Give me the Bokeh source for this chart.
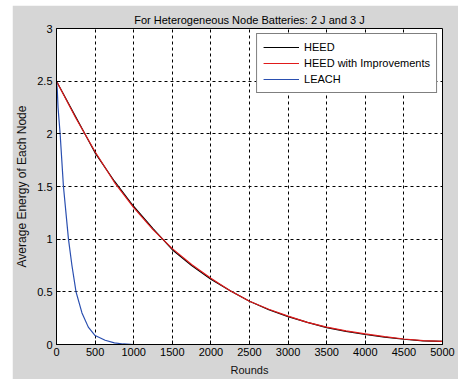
from bokeh.plotting import figure
from bokeh.models import Range1d, FixedTicker, NumeralTickFormatter, Legend, LegendItem
from bokeh.embed import file_html
from bokeh.resources import INLINE

# ---- data ----
title_text = "For Heterogeneous Node Batteries: 2 J and 3 J"
x_label = "Rounds"
y_label = "Average Energy of Each Node"

heed_rounds = [0, 250, 500, 750, 1000, 1250, 1500, 1750, 2000, 2250, 2500, 2750,
               3000, 3250, 3500, 3750, 4000, 4250, 4500, 4750, 5000]
heed_energy = [2.50, 2.16, 1.82, 1.55, 1.31, 1.10, 0.90, 0.75, 0.62, 0.51, 0.41, 0.33,
               0.265, 0.21, 0.16, 0.125, 0.095, 0.07, 0.05, 0.035, 0.03]

heedi_rounds = [0, 250, 500, 750, 1000, 1250, 1500, 1750, 2000, 2250, 2500, 2750,
                3000, 3250, 3500, 3750, 4000, 4250, 4500, 4750, 5000]
heedi_energy = [2.50, 2.15, 1.83, 1.54, 1.30, 1.09, 0.91, 0.76, 0.63, 0.51, 0.41, 0.335,
                0.27, 0.21, 0.165, 0.13, 0.10, 0.075, 0.052, 0.037, 0.03]

leach_rounds = [0, 10, 20, 47, 90, 155, 200, 253, 330, 412, 500, 630, 750, 865, 1000, 3500]
leach_energy = [2.50, 2.42, 2.25, 2.00, 1.50, 1.00, 0.75, 0.50, 0.30, 0.165, 0.085, 0.04,
                0.015, 0.005, 0.0, 0.0]

x_ticks = [0, 500, 1000, 1500, 2000, 2500, 3000, 3500, 4000, 4500, 5000]
y_ticks = [0, 0.5, 1, 1.5, 2, 2.5, 3]

FONT = "Liberation Sans"
BG = "#d6d6d6"

p = figure(width=446, height=374, output_backend="svg", toolbar_location=None,
           x_range=Range1d(0, 5000), y_range=Range1d(0, 3),
           min_border_left=42, min_border_right=16, min_border_top=23, min_border_bottom=35)
p.margin = (5, 0, 0, 12)
p.border_fill_color = BG
p.background_fill_color = "white"
p.outline_line_color = "black"
p.outline_line_width = 1

p.title.text = title_text
p.title.align = "center"
p.title.vertical_align = "middle"
p.title.text_font = FONT
p.title.text_font_size = "11px"
p.title.text_font_style = "normal"
p.title.text_color = "black"
p.title.standoff = 4

for ax in (p.xaxis[0], p.yaxis[0]):
    ax.major_label_text_font = FONT
    ax.major_label_text_font_size = "11px"
    ax.major_label_text_color = "black"
    ax.axis_label_text_font = FONT
    ax.axis_label_text_font_style = "normal"
    ax.axis_label_text_color = "#111111"
    ax.axis_line_color = "black"
    ax.major_tick_line_color = "black"
    ax.major_tick_in = 4
    ax.major_tick_out = 0
    ax.minor_tick_line_color = None

p.xaxis[0].ticker = FixedTicker(ticks=x_ticks)
p.yaxis[0].ticker = FixedTicker(ticks=y_ticks)
p.xaxis[0].formatter = NumeralTickFormatter(format="0")
p.yaxis[0].formatter = NumeralTickFormatter(format="0.[0]")
p.xaxis[0].axis_label = x_label
p.yaxis[0].axis_label = y_label
p.xaxis[0].axis_label_text_font_size = "11px"
p.yaxis[0].axis_label_text_font_size = "12px"
p.xaxis[0].major_label_standoff = 3
p.xaxis[0].axis_label_standoff = 5
p.yaxis[0].major_label_standoff = 4
p.yaxis[0].axis_label_standoff = 5

for g, t in ((p.xgrid[0], x_ticks), (p.ygrid[0], y_ticks)):
    g.ticker = FixedTicker(ticks=t)
    g.grid_line_color = "black"
    g.grid_line_dash = "3 3"
    g.grid_line_width = 1

r1 = p.line(heed_rounds, heed_energy, line_color="black", line_width=1.2)
r2 = p.line(heedi_rounds, heedi_energy, line_color="#e01a1a", line_width=1.2)
r3 = p.line(leach_rounds, leach_energy, line_color="#2a4fb0", line_width=1.2)

legend = Legend(items=[LegendItem(label="HEED", renderers=[r1]),
                       LegendItem(label="HEED with Improvements", renderers=[r2]),
                       LegendItem(label="LEACH", renderers=[r3])],
                location="top_right", margin=5, padding=6, spacing=2,
                label_height=14, glyph_height=14, glyph_width=36, label_standoff=5,
                label_text_font=FONT, label_text_font_size="11px", label_text_color="black",
                border_line_color="black", border_line_width=1, background_fill_color="white",
                background_fill_alpha=1.0)
p.add_layout(legend, "center")

open("out.html", "w").write(file_html(p, INLINE))
